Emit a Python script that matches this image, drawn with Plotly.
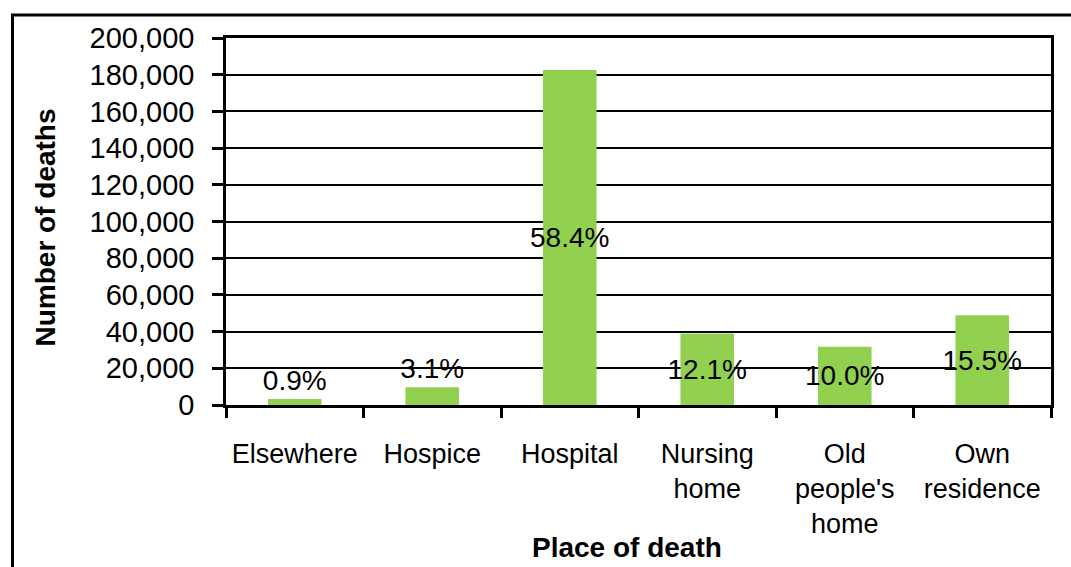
import plotly.graph_objects as go

# Data
categories = ["Elsewhere", "Hospice", "Hospital", "Nursing<br>home",
              "Old<br>people's<br>home", "Own<br>residence"]
deaths = [3300, 9650, 182500, 39000, 31700, 48900]
pct_labels = ["0.9%", "3.1%", "58.4%", "12.1%", "10.0%", "15.5%"]
label_pos = ["outside", "outside", "inside", "inside", "inside", "inside"]
y_ticks = list(range(0, 200001, 20000))
y_tick_text = [f"{v:,}" for v in y_ticks]

FONT = "Liberation Sans, Arial, sans-serif"
W, H = 1071, 567
L, R, T, B = 226, 20, 38, 162
pw, ph = W - L - R, H - T - B


def px_x(p):
    return (p - L) / pw


def px_y(p):
    return (H - B - p) / ph


fig = go.Figure(go.Bar(
    x=categories, y=deaths,
    marker=dict(color="#92D050", line=dict(width=0)),
    text=pct_labels, textposition=label_pos,
    insidetextanchor="middle", constraintext="none", textangle=0,
    textfont=dict(family=FONT, size=28, color="black"),
    cliponaxis=False,
))

fig.update_layout(
    width=W, height=H,
    margin=dict(l=L, r=R, t=T, b=B),
    paper_bgcolor="white", plot_bgcolor="white",
    font=dict(family=FONT, size=28, color="black"),
    bargap=0.61,
    showlegend=False,
)

fig.update_yaxes(
    range=[0, 200000], tickvals=y_ticks, ticktext=y_tick_text,
    showgrid=True, gridcolor="black", gridwidth=2,
    zeroline=False,
    showline=True, linecolor="black", linewidth=2.5, mirror=True,
    ticks="outside", ticklen=11, tickwidth=2.5, tickcolor="black",
    tickfont=dict(family=FONT, size=29, color="black"),
    ticklabelstandoff=12,
)

fig.update_xaxes(
    showgrid=False, showline=True, linecolor="black", linewidth=2.5, mirror=True,
    ticks="outside", tickson="boundaries", ticklen=10, tickwidth=2.5, tickcolor="black",
    tickfont=dict(family=FONT, size=27, color="black"),
    tickangle=0, ticklabelstandoff=23,
)

fig.add_annotation(
    text="<b>Number of deaths</b>", textangle=-90,
    xref="paper", yref="paper", x=px_x(45), y=px_y(227.5),
    xanchor="center", yanchor="middle", showarrow=False,
    font=dict(family=FONT, size=28, color="black"),
)
fig.add_annotation(
    text="<b>Place of death</b>",
    xref="paper", yref="paper", x=px_x(627), y=px_y(547),
    xanchor="center", yanchor="middle", showarrow=False,
    font=dict(family=FONT, size=28, color="black"),
)

# outer chart border
fig.add_shape(
    type="rect", xref="paper", yref="paper",
    x0=px_x(12.5), x1=px_x(1074), y0=px_y(575), y1=px_y(15),
    line=dict(color="black", width=3), fillcolor="rgba(0,0,0,0)", layer="below",
)

fig.write_html(
    "out.html",
    config={"displayModeBar": False},
    post_script="document.body.style.margin='0';document.body.style.padding='0';"
                "document.body.style.overflow='hidden';",
)
